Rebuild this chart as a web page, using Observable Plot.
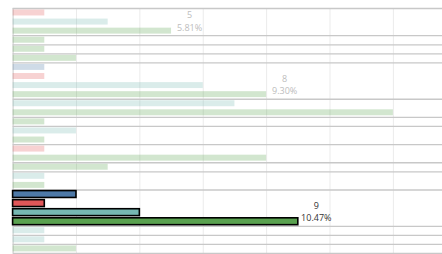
<!DOCTYPE html>
<html>
<head>
<meta charset="utf-8">
<script src="https://cdn.jsdelivr.net/npm/d3@7"></script>
<script src="https://cdn.jsdelivr.net/npm/@observablehq/plot@0.6"></script>
<style>
  html, body { margin: 0; padding: 0; background: #fff; }
  #chart svg { display: block; }
</style>
</head>
<body>
<div id="chart"></div>
<script>
// One entry per bar row, top to bottom
const groups     = [1,1,1,2,3,4,5,5,5,5,6,6,7,8,8,9,9,10,11,11,12,12,12,12,13,14,15];
const categories = ["red","teal","green","green","green","green","blue","red","teal","green","teal","green","green","teal","green","red","green","green","teal","green","blue","red","teal","green","teal","teal","green"];
const values     = [1,3,5,1,1,2,1,1,6,8,7,12,1,2,1,1,8,3,1,1,2,1,4,9,1,1,2];
const highlightedGroup = 12;
const labelRows = [2, 9, 23];
const total = d3.sum(values);
const xTicks = [2, 4, 6, 8, 10, 12];

const palette = {blue: "#4e79a7", red: "#e15759", teal: "#76b7b2", green: "#59a14f"};

const rows = values.map((v, i) => ({
  i, value: v, group: groups[i], cat: categories[i],
  hi: groups[i] === highlightedGroup
}));
const boundaries = [0];
for (let i = 1; i < groups.length; i++) if (groups[i] !== groups[i - 1]) boundaries.push(i);
boundaries.push(groups.length);

const labels = labelRows.map(i => ({
  i, value: values[i], hi: groups[i] === highlightedGroup,
  text: `${values[i]}\n${(values[i] / total * 100).toFixed(2)}%`
}));

const faded = rows.filter(d => !d.hi);
const strong = rows.filter(d => d.hi);

const chart = Plot.plot({
  width: 442,
  height: 254,
  marginLeft: 12.6,
  marginRight: 0,
  marginTop: 8,
  marginBottom: 1,
  x: {domain: [0, 13.55], axis: null},
  y: {domain: [0, groups.length], axis: null, reverse: true},
  style: {fontFamily: "'Open Sans', sans-serif", fontSize: "9px"},
  marks: [
    Plot.ruleX(xTicks, {stroke: "#ebebeb", strokeWidth: 1}),
    Plot.ruleY(boundaries, {stroke: "#c8c8c8", strokeWidth: 1.3}),
    Plot.ruleX([0], {stroke: "#c8c8c8", strokeWidth: 1}),
    Plot.rect(faded, {
      x1: 0, x2: "value",
      y1: "i", y2: d => d.i + 1,
      insetTop: 1.5, insetBottom: 1.6,
      fill: d => palette[d.cat],
      fillOpacity: 0.27
    }),
    Plot.rect(strong, {
      x1: 0, x2: "value",
      y1: "i", y2: d => d.i + 1,
      insetTop: 1.1, insetBottom: 1.1,
      fill: d => palette[d.cat],
      stroke: "#000",
      strokeWidth: 1.6
    }),
    Plot.text(labels, {
      x: "value", y: d => d.i + 0.5,
      text: "text",
      dx: 18, dy: -0.5,
      lineAnchor: "bottom",
      lineHeight: 1.38,
      textAnchor: "middle",
      fill: d => d.hi ? "#333" : "#bdbdbd"
    })
  ]
});
document.getElementById("chart").appendChild(chart);
</script>
</body>
</html>
